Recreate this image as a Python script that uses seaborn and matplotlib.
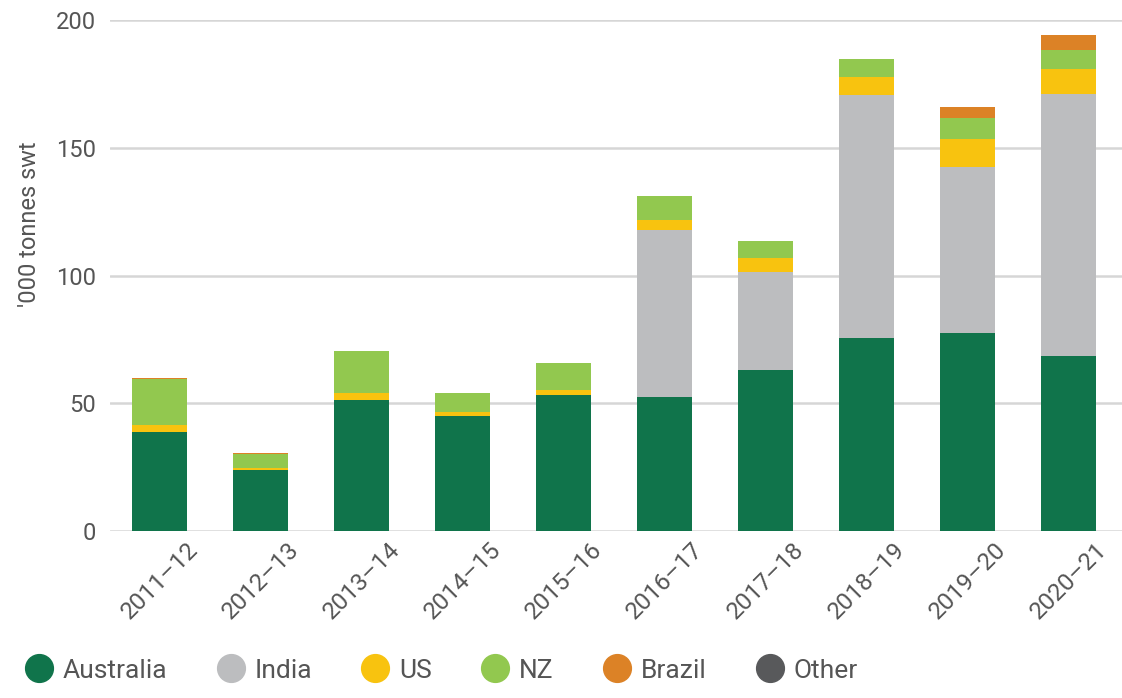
import numpy as np
import pandas as pd
import matplotlib.pyplot as plt
import matplotlib.transforms as mtransforms
from matplotlib.lines import Line2D
import seaborn as sns

years = ["2011–12", "2012–13", "2013–14", "2014–15", "2015–16",
         "2016–17", "2017–18", "2018–19", "2019–20", "2020–21"]
australia = [39.0, 24.1, 51.5, 45.0, 53.2, 52.4, 63.0, 75.5, 77.5, 68.5]
india = [0, 0, 0, 0, 0, 65.4, 38.3, 95.4, 65.1, 102.5]
us = [2.5, 0.8, 2.4, 1.6, 2.0, 4.2, 5.8, 6.8, 10.9, 9.9]
nz = [17.9, 5.2, 16.5, 7.4, 10.6, 9.1, 6.5, 7.3, 8.4, 7.6]
brazil = [0.4, 0.5, 0, 0, 0, 0, 0, 0, 4.2, 5.6]
other = [0, 0, 0, 0, 0, 0, 0, 0, 0, 0]

series = ["Australia", "India", "US", "NZ", "Brazil", "Other"]
colors = ["#10744b", "#bcbdbf", "#f8c30f", "#92c84f", "#dc8226", "#58595b"]

df = pd.DataFrame({"year": years, "Australia": australia, "India": india,
                   "US": us, "NZ": nz, "Brazil": brazil, "Other": other})
cum = df[series].cumsum(axis=1)

sns.set_style("white")
plt.rcParams["font.family"] = ["Roboto", "DejaVu Sans"]

fig = plt.figure(figsize=(11.22, 6.98), dpi=100)
ax = fig.add_axes([0.098, 0.239, 0.902, 0.732])

# stacked bars: draw cumulative totals from the top series down
for name, col in zip(series[::-1], colors[::-1]):
    sns.barplot(x=df["year"], y=cum[name], color=col, saturation=1,
                width=0.545, errorbar=None, linewidth=0, ax=ax, zorder=3)

ax.set_ylim(0, 200)
ax.set_xlim(-0.495, 9.525)
ax.set_yticks([0, 50, 100, 150, 200])
ax.yaxis.grid(True, color="#d6d6d6", linewidth=1.8, zorder=0)
ax.set_axisbelow(True)
sns.despine(ax=ax, left=True, bottom=True)

ax.tick_params(axis="y", labelsize=17, colors="#555555", length=0, pad=10)
ax.tick_params(axis="x", labelsize=17.5, colors="#555555", length=0, pad=5)
shift = mtransforms.ScaledTranslation(0.26, 0, fig.dpi_scale_trans)
for lab in ax.get_xticklabels():
    lab.set_rotation(45)
    lab.set_ha("right")
    lab.set_rotation_mode("anchor")
    lab.set_transform(lab.get_transform() + shift)

ax.set_xlabel("")
ax.set_ylabel("'000 tonnes swt", fontsize=17, color="#555555")
ax.yaxis.set_label_coords(-0.068, 0.6)

handles = [Line2D([], [], marker="o", linestyle="", markersize=20,
                  markerfacecolor=c, markeredgecolor=c) for c in colors]
fig.legend(handles, series, loc="lower left", bbox_to_anchor=(-0.01, -0.012),
           ncol=6, frameon=False, fontsize=19, handletextpad=-0.1,
           columnspacing=1.4, labelcolor="#555555")

fig.savefig("out.png", dpi=100)
